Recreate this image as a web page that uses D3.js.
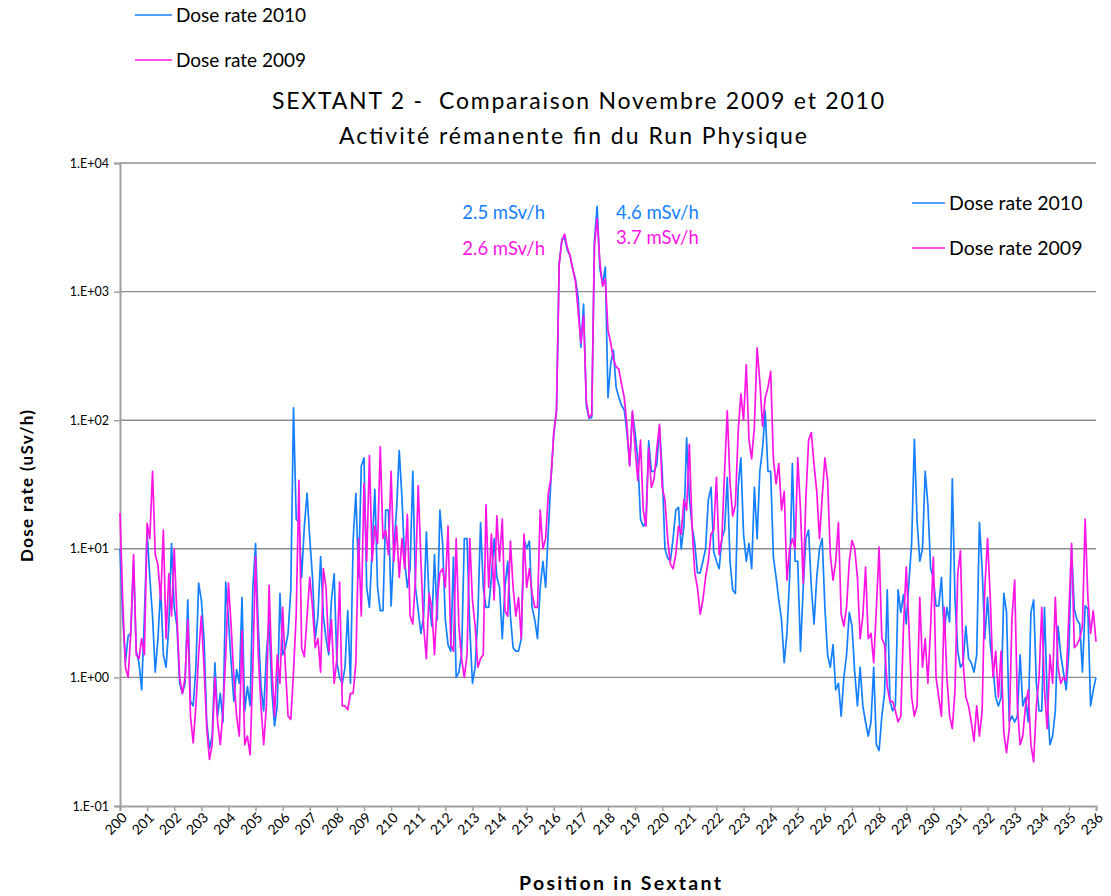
<!DOCTYPE html>
<html>
<head>
<meta charset="utf-8">
<script src="https://cdn.jsdelivr.net/npm/d3@7"></script>
<style>
  body { margin: 0; background: #fff; }
  text { font-family: Lato, "Open Sans", sans-serif; fill: #000; }
</style>
</head>
<body>
<div id="chart"></div>
<script>
// position in sextant, one sample every 0.1
var positions = d3.range(0, 361).map(function(i) { return 200 + i / 10; });

// dose rate 2010 (uSv/h), one row per sextant unit
var rate2010 = [
  10, 3, 1.3, 2.1, 2.2, 8, 1.6, 1.3, 0.8, 3,
  13.5, 6, 3, 1.1, 2, 5, 1.5, 1.2, 2.5, 11,
  3.5, 2.5, 0.9, 0.75, 0.9, 4, 0.65, 0.6, 1.2, 5.4,
  4, 2, 0.45, 0.28, 0.35, 1.3, 0.5, 0.75, 0.45, 5.5,
  2.8, 1.3, 0.65, 1.15, 0.9, 4.2, 0.55, 0.85, 0.6, 5,
  11, 2.5, 0.85, 0.55, 1.5, 2.8, 0.8, 0.42, 0.6, 4.5,
  1.5, 1.7, 2.2, 4.8, 125, 17, 16, 6, 15, 27,
  12, 6, 2, 3, 8.7, 3, 2, 1.5, 4, 6.4,
  1.3, 1.0, 0.9, 1.2, 3.3, 0.9, 11.8, 27, 6, 44,
  51, 5, 3.5, 10, 29, 5, 3.3, 3.3, 20, 20,
  3.6, 10, 20, 58, 25, 8, 5, 7, 40, 5,
  3.3, 2.2, 3, 13.5, 4, 2.5, 9, 2.8, 20, 11,
  2.8, 1.8, 1.6, 8.6, 1.0, 1.1, 1.5, 12, 12, 2.5,
  0.9, 1.2, 3, 16, 5, 3.5, 3.5, 6, 12, 6,
  5, 2, 5, 8, 3, 1.7, 1.6, 1.6, 2, 12,
  10, 11.5, 3.5, 2.8, 2.0, 5, 8, 5, 14, 36,
  78, 118, 1640, 2560, 2600, 2100, 1900, 1500, 1250, 900,
  370, 800, 130, 103, 105, 2500, 4600, 1500, 1150, 1550,
  150, 275, 350, 180, 150, 130, 120, 80, 45, 115,
  80, 50, 17, 15, 16, 69, 40, 40, 45, 88,
  40, 10, 8.5, 8, 12, 20, 21, 10, 15, 73,
  25, 15, 11, 6.5, 6.5, 8, 10, 24, 30, 9.5,
  8, 7, 12, 14, 36, 8, 4.8, 4.5, 30, 51,
  13, 8, 11, 7, 30, 12, 40, 60, 118, 40,
  40, 8.6, 6, 4, 2.8, 1.3, 2.2, 6, 46, 8,
  8, 1.6, 5, 12, 14, 5, 2.6, 6, 10, 12,
  3.5, 1.5, 1.2, 1.8, 0.8, 0.9, 0.5, 1.0, 1.5, 3.2,
  2.5, 1.1, 0.6, 1.2, 0.6, 0.45, 0.35, 0.45, 1.2, 0.3,
  0.27, 0.5, 0.75, 4.8, 0.65, 0.55, 0.6, 4.8, 3.2, 4.4,
  2.6, 5.6, 11, 71, 16.6, 8, 10, 40, 22, 7,
  6, 3.6, 3.6, 6, 2.2, 3.5, 2.7, 35, 4, 1.6,
  1.2, 1.3, 2.5, 1.4, 1.3, 1.1, 1.5, 16, 7, 2,
  4.2, 1.8, 1.2, 0.7, 0.6, 0.7, 4.5, 3.2, 0.45, 0.5,
  0.45, 0.5, 1.5, 0.6, 0.7, 0.45, 3.2, 4, 0.9, 0.55,
  0.55, 3.5, 0.7, 0.3, 0.35, 0.55, 2.5, 1.5, 1.1, 0.8,
  1.6, 10, 3.4, 2.8, 2.6, 1.1, 3.6, 3.4, 0.6, 0.8,
  1.0
];

// dose rate 2009 (uSv/h)
var rate2009 = [
  19, 4, 1.2, 1.0, 2.3, 9, 1.5, 1.4, 2, 1.5,
  15.8, 12, 40, 9, 7.5, 4, 14, 2, 6.4, 3,
  10, 3, 1.0, 0.75, 1.0, 2.8, 0.5, 0.31, 0.6, 1.5,
  3, 1.2, 0.4, 0.23, 0.3, 1.0, 0.45, 0.3, 0.55, 1.5,
  5.4, 2.5, 1.0, 0.5, 0.35, 2.3, 0.3, 0.35, 0.25, 1.2,
  8.7, 1.5, 0.6, 0.3, 0.6, 5.2, 1.2, 0.5, 1.5, 0.9,
  3.5, 1.2, 0.5, 0.47, 1.1, 3.1, 34, 1.7, 1.45, 3,
  6, 3.5, 1.7, 2.0, 1.1, 7, 5, 1.6, 2.8, 0.9,
  1.4, 5.5, 0.6, 0.6, 0.56, 0.75, 0.75, 1.3, 12, 3,
  32, 8, 53, 8, 15, 11, 62, 12, 14, 9,
  40, 8, 15, 6, 12, 7, 18.5, 3, 2.6, 6,
  31, 8, 2.5, 1.4, 4.5, 3.5, 1.5, 4, 6.5, 7,
  5, 15, 1.8, 1.6, 12, 2.5, 1.4, 1.0, 1.5, 12,
  4, 2.5, 1.2, 1.4, 1.5, 22, 5, 13, 4, 18,
  8, 17, 3.3, 3, 11.5, 5, 3, 4.2, 2, 13,
  5, 7, 4.5, 3.5, 3.5, 20, 10, 12, 27, 36,
  80, 118, 1640, 2500, 2800, 2200, 1900, 1500, 1200, 700,
  400, 650, 140, 105, 110, 2300, 3700, 1700, 1100, 1250,
  500, 400, 300, 260, 250, 190, 150, 90, 44, 118,
  60, 34, 70, 20, 15, 61, 30, 35, 60, 93,
  30, 24, 12, 7.6, 7, 9, 15, 13, 24, 20,
  65, 15, 6.5, 5, 3.1, 4, 6, 8, 13, 14,
  36, 9, 12, 40, 118, 33, 18, 22, 80, 160,
  100, 270, 70, 50, 90, 365, 200, 90, 150, 180,
  240, 50, 32, 46, 20, 28, 5.7, 10, 12, 10,
  51, 20, 5.4, 25, 70, 80, 45, 28, 12, 25,
  51, 34, 9, 5.7, 8, 16, 3.1, 2.5, 3.5, 8,
  11.6, 10, 6, 2, 3, 7.2, 2, 2.2, 1.3, 3.5,
  10.3, 2, 1.8, 0.85, 0.65, 0.65, 0.55, 0.45, 0.5, 2.5,
  7.2, 2.5, 0.7, 0.5, 0.6, 4.2, 1.2, 2, 0.9, 2.5,
  8.6, 1.0, 0.7, 0.5, 3.5, 1.0, 0.5, 0.4, 0.8, 6.4,
  9.7, 1.3, 0.7, 0.6, 0.45, 0.32, 0.6, 0.35, 0.55, 5,
  12, 4.2, 1.0, 1.6, 0.7, 1.6, 0.37, 0.26, 0.4, 2.9,
  5.7, 0.6, 0.3, 0.35, 0.6, 0.8, 0.3, 0.22, 0.6, 1.0,
  3.5, 0.8, 0.4, 1.5, 0.9, 4.2, 1.2, 0.9, 1.0, 0.95,
  3.2, 11, 1.7, 1.8, 2, 2.5, 17, 4.2, 2.2, 3.3,
  1.9
];

var xTicks = d3.range(200, 237);
var yTicks = [0.1, 1, 10, 100, 1000, 10000];
var seriesNames = ["Dose rate 2010", "Dose rate 2009"];
var seriesColors = ["#1580ff", "#ff14e6"];
var peakNotes = [
  { text: "2.5 mSv/h", color: seriesColors[0], x: 545, y: 213, anchor: "end" },
  { text: "2.6 mSv/h", color: seriesColors[1], x: 545, y: 249, anchor: "end" },
  { text: "4.6 mSv/h", color: seriesColors[0], x: 616, y: 213, anchor: "start" },
  { text: "3.7 mSv/h", color: seriesColors[1], x: 616, y: 238, anchor: "start" }
];

function buildChart() {
  var width = 1111, height = 896;
  var mLeft = 120, mRight = 1096, mTop = 163, mBottom = 806;

  var svg = d3.select("#chart").append("svg")
    .attr("width", width)
    .attr("height", height);

  svg.append("rect").attr("width", width).attr("height", height).attr("fill", "#fff");

  var x = d3.scaleLinear().domain([200, 236]).range([mLeft, mRight]);
  var y = d3.scaleLog().domain([0.1, 10000]).range([mBottom, mTop]);

  // horizontal grid
  svg.append("g")
    .selectAll("line")
    .data(yTicks.slice(1))
    .enter().append("line")
    .attr("x1", mLeft).attr("x2", mRight)
    .attr("y1", function(d) { return y(d); })
    .attr("y2", function(d) { return y(d); })
    .attr("stroke", "#8c8c8c")
    .attr("stroke-width", 1.4);

  // y axis
  var yAxis = svg.append("g")
    .attr("transform", "translate(" + mLeft + ",0)")
    .call(d3.axisLeft(y).tickValues(yTicks).tickSize(6).tickPadding(5)
      .tickFormat(function(d) {
        var e = Math.round(Math.log10(d));
        return "1.E" + (e < 0 ? "-" : "+") + (Math.abs(e) < 10 ? "0" : "") + Math.abs(e);
      }));
  yAxis.select(".domain").attr("stroke", "#a0a0a0").attr("stroke-width", 2);
  yAxis.selectAll(".tick line").attr("stroke", "#a0a0a0").attr("stroke-width", 1.5);
  yAxis.selectAll("text").style("font-size", "12.5px").style("font-family", "Lato, sans-serif").attr("fill", "#000");

  // x axis
  var xAxis = svg.append("g")
    .attr("transform", "translate(0," + mBottom + ")")
    .call(d3.axisBottom(x).tickValues(xTicks).tickSize(5).tickFormat(d3.format("d")));
  xAxis.select(".domain").attr("stroke", "#a0a0a0").attr("stroke-width", 2);
  xAxis.selectAll(".tick line").attr("stroke", "#a0a0a0").attr("stroke-width", 1.5);
  xAxis.selectAll("text")
    .style("font-size", "14px")
    .style("font-family", "Lato, sans-serif")
    .attr("fill", "#000")
    .attr("text-anchor", "end")
    .attr("dy", "0.35em")
    .attr("transform", "translate(4,9) rotate(-45)")
    .attr("x", 0).attr("y", 0);

  // series
  var line = d3.line()
    .x(function(d) { return x(d[0]); })
    .y(function(d) { return y(d[1]); });

  [rate2010, rate2009].forEach(function(values, i) {
    svg.append("path")
      .datum(positions.map(function(p, j) { return [p, values[j]]; }))
      .attr("d", line)
      .attr("fill", "none")
      .attr("stroke", seriesColors[i])
      .attr("stroke-width", 1.7)
      .attr("stroke-linejoin", "round");
  });

  // titles (textLength to match the wide spacing of the original)
  svg.append("text").attr("x", 578).attr("y", 109).attr("text-anchor", "middle")
    .attr("textLength", 612).attr("lengthAdjust", "spacing")
    .style("font-size", "23px").style("white-space", "pre")
    .text("SEXTANT 2 -  Comparaison Novembre 2009 et 2010");
  svg.append("text").attr("x", 573).attr("y", 144).attr("text-anchor", "middle")
    .attr("textLength", 468).attr("lengthAdjust", "spacing")
    .style("font-size", "23px")
    .text("Activité rémanente fin du Run Physique");

  svg.append("text")
    .attr("transform", "translate(33,486) rotate(-90)")
    .attr("text-anchor", "middle")
    .attr("textLength", 152).attr("lengthAdjust", "spacing")
    .style("font-size", "17px").style("font-weight", "bold")
    .text("Dose rate (uSv/h)");

  svg.append("text").attr("x", 620).attr("y", 890).attr("text-anchor", "middle")
    .attr("textLength", 202).attr("lengthAdjust", "spacing")
    .style("font-size", "19.5px").style("font-weight", "bold")
    .text("Position in Sextant");

  // peak annotations
  svg.selectAll(".note")
    .data(peakNotes)
    .enter().append("text")
    .attr("class", "note")
    .attr("x", function(d) { return d.x; })
    .attr("y", function(d) { return d.y; })
    .attr("dy", "0.35em")
    .attr("text-anchor", function(d) { return d.anchor; })
    .style("font-size", "18.5px")
    .style("fill", function(d) { return d.color; })
    .text(function(d) { return d.text; });

  // legends (top-left and inside plot)
  function legend(x0, y0, gap, lineLen, fontSize) {
    var g = svg.append("g").attr("transform", "translate(" + x0 + "," + y0 + ")");
    seriesNames.forEach(function(name, i) {
      g.append("line")
        .attr("x1", 0).attr("x2", lineLen)
        .attr("y1", i * gap).attr("y2", i * gap)
        .attr("stroke", seriesColors[i]).attr("stroke-width", 1.6);
      g.append("text")
        .attr("x", lineLen + 4).attr("y", i * gap).attr("dy", "0.35em")
        .style("font-size", fontSize + "px")
        .text(name);
    });
  }
  legend(135, 15, 45, 37, 19);
  legend(912, 203, 45, 33, 19.5);
}

buildChart();
</script>
</body>
</html>
